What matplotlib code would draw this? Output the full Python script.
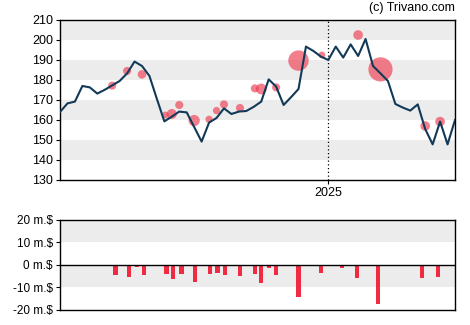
import matplotlib
matplotlib.use('Agg')

import matplotlib.pyplot as plt
import matplotlib.dates as mdates
import numpy as np

plt.rcParams['font.family'] = ['Liberation Sans', 'DejaVu Sans']

# weekly closing prices
start = np.datetime64('2024-04-24')
prices = [164, 168.3, 169.2, 177, 176.3, 173.2, 175.1, 177.3, 179.5, 183.3,
          189.2, 187, 182, 170.5, 159.3, 161.7, 164.2, 163.8, 156.5, 149.2,
          158.7, 161, 165.8, 163, 164.2, 164.5, 166.6, 169.2, 180.3, 176.7,
          167.5, 171.4, 175.5, 196.7, 194.5, 191.7, 190, 196.7, 191.2, 197.8,
          192, 200.5, 187, 183.3, 179.5, 168, 166.2, 164.7, 167.8, 155.5,
          147.8, 159.2, 147.8, 160]
dates = start + np.arange(len(prices)) * np.timedelta64(7, 'D')

# insider trades: date, price, volume
trade_dates = ['2024-06-12', '2024-06-26', '2024-07-10', '2024-08-01', '2024-08-07',
               '2024-08-14', '2024-08-28', '2024-09-11', '2024-09-18', '2024-09-25',
               '2024-10-10', '2024-10-24', '2024-10-30', '2024-11-13', '2024-12-04',
               '2024-12-26', '2025-01-29', '2025-02-19', '2025-04-02', '2025-04-16']
trade_prices = [177.2, 184.5, 182.8, 162.5, 163, 167.5, 159.7, 160.3, 164.7, 167.8,
                166, 175.8, 175.5, 176.3, 189.7, 192.5, 202.5, 185.3, 157, 159.2]
trade_volume = [9, 9, 11, 4, 18, 9, 25, 6, 6, 9,
                9, 9, 22, 9, 100, 4, 16, 144, 16, 16]

# net insider flow in million $
flow_dates = ['2024-06-15', '2024-06-28', '2024-07-05', '2024-07-12', '2024-08-02',
              '2024-08-08', '2024-08-16', '2024-08-29', '2024-09-06', '2024-09-12',
              '2024-09-19', '2024-09-26', '2024-10-10', '2024-10-24', '2024-10-30',
              '2024-11-06', '2024-11-13', '2024-11-27', '2024-12-04', '2024-12-11',
              '2024-12-25', '2024-12-31', '2025-01-14', '2025-01-28', '2025-02-04',
              '2025-02-17', '2025-03-03', '2025-03-30', '2025-04-14']
flow_values = [-4.3, -5.2, -0.9, -4.3, -3.9, -6.2, -3.9, -7.4, -0.6, -3.9,
               -3.4, -4.3, -4.7, -3.9, -7.9, -1.2, -4.3, -0.6, -14.1, -0.6,
               -3.4, -0.6, -1.2, -5.6, -0.6, -17.2, -0.6, -5.6, -5.2]

price_ticks = [130, 140, 150, 160, 170, 180, 190, 200, 210]
flow_ticks = [-20, -10, 0, 10, 20]

fig = plt.figure(figsize=(4.7, 3.25), dpi=100)
ax = fig.add_axes([0.1277, 0.4462, 0.8404, 0.4923])
ax2 = fig.add_axes([0.1277, 0.0462, 0.8404, 0.2769])

line_color = '#123a58'
red = '#f02a40'

# price panel
for lo in range(140, 210, 20):
    ax.axhspan(lo, lo + 10, color='#ececec', lw=0, zorder=0)
ax.plot(dates, prices, color=line_color, lw=1.5, zorder=3)
ax.scatter(np.array(trade_dates, dtype='datetime64[D]'), trade_prices,
           s=np.array(trade_volume) * 2.0 + 16, color='#ee3a50', alpha=0.65, lw=0, zorder=2)
ax.axvline(np.datetime64('2025-01-01'), color='black', lw=0.9, ls=(0, (1, 2)), zorder=1)

ax.set_xlim(dates[0], dates[-1])
ax.set_ylim(130, 210)
ax.set_yticks(price_ticks)
ax.set_xticks([np.datetime64('2025-01-01')])
ax.xaxis.set_major_formatter(mdates.DateFormatter('%Y'))
ax.tick_params(labelsize=9, length=3, width=0.8, pad=2)
for s in ax.spines.values():
    s.set_linewidth(1.0)

fig.text(0.968, 0.975, '(c) Trivano.com', ha='right', va='center', fontsize=9)

# insider flow panel
ax2.axhspan(10, 20, color='#ececec', lw=0, zorder=0)
ax2.axhspan(-10, 0, color='#ececec', lw=0, zorder=0)
ax2.bar(np.array(flow_dates, dtype='datetime64[D]'), flow_values, width=4,
        color=red, zorder=2)
ax2.axhline(0, color='black', lw=1.0, zorder=3)
ax2.set_xlim(dates[0], dates[-1])
ax2.set_ylim(-20, 20)
ax2.set_yticks(flow_ticks)
ax2.set_yticklabels([f'{v} m.$' for v in flow_ticks])
ax2.set_xticks([])
ax2.tick_params(labelsize=8.5, length=3, width=0.8, pad=2)
for s in ax2.spines.values():
    s.set_linewidth(1.0)

plt.savefig('out.png', dpi=100)
plt.close()
